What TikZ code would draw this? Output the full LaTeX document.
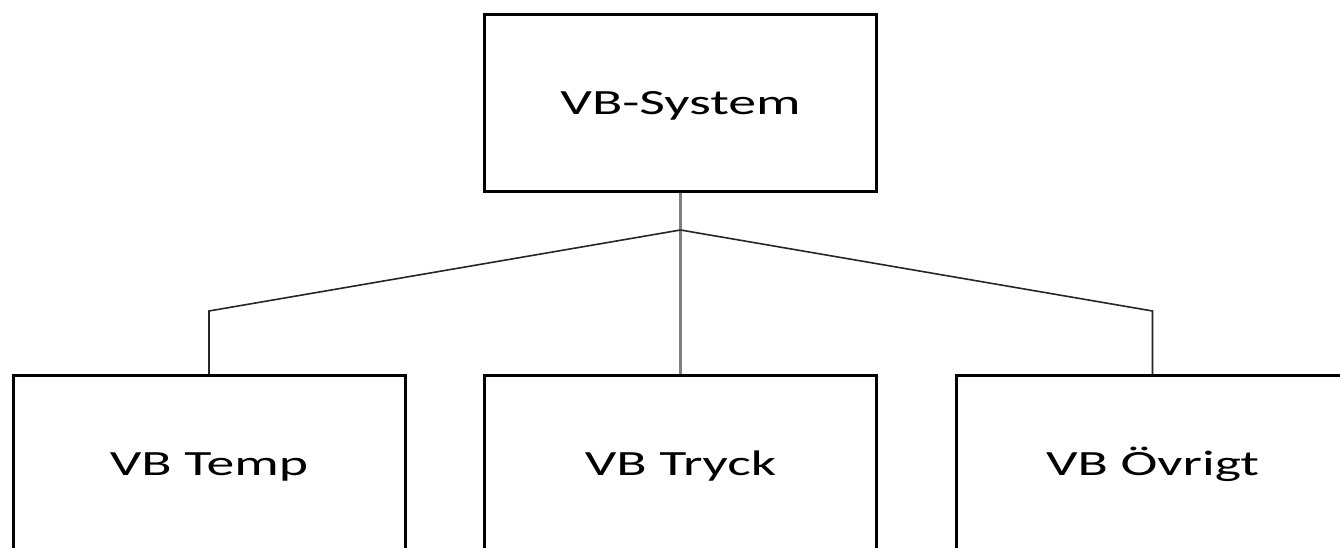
\documentclass[tikz,border=0pt]{standalone}
\usepackage{fontspec}
\setmainfont{Carlito}
\newcommand{\widetext}[1]{\scalebox{1.57}[1]{#1}}
\begin{document}
\begin{tikzpicture}[x=1pt,y=1pt,
  box/.style={draw=black, line width=3pt, minimum width=392pt, minimum height=177pt,
    inner sep=0pt, font=\fontsize{35.5}{40}\selectfont, text height=22.5pt, text depth=0pt},
  link/.style={draw=black!85, line width=1.6pt},
  stem/.style={draw=black!50, line width=2.2pt}]
\useasboundingbox (0,0) rectangle (1340,548);
\clip (0,0) rectangle (1340,548);
% boxes
\node[box] (sys)  at (680.5,445) {\widetext{VB-System}};
\node[box] (temp) at (209,84)    {\widetext{VB Temp}};
\node[box] (tryck) at (680.5,84) {\widetext{VB Tryck}};
\node[box] (ovr)  at (1152.5,84) {\widetext{VB Övrigt}};
% connectors
\coordinate (j) at (680.5,318);
\draw[stem] (sys.south) -- (tryck.north);
\draw[link] (j) -- (temp.north |- 0,237) -- (temp.north);
\draw[link] (j) -- (ovr.north |- 0,237) -- (ovr.north);
\end{tikzpicture}
\end{document}
